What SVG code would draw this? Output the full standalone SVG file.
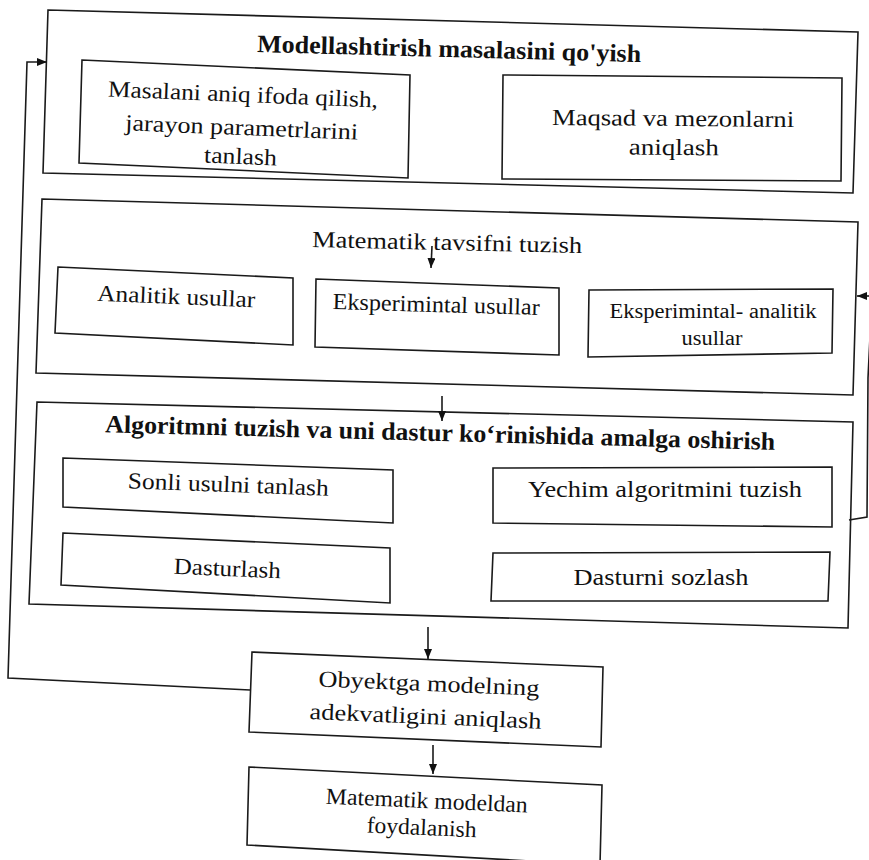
<svg xmlns="http://www.w3.org/2000/svg" width="869" height="860" viewBox="0 0 869 860">
<style>
.box{fill:none;stroke:#1a1a1a;stroke-width:1.6;stroke-linejoin:miter}
.t{font-family:"Liberation Serif","Times New Roman",serif;font-size:23px;fill:#111;text-anchor:middle}
.tb{font-family:"Liberation Serif","Times New Roman",serif;font-size:25px;font-weight:bold;fill:#111;text-anchor:middle}
.ts{font-family:"Liberation Serif","Times New Roman",serif;font-size:20px;fill:#111;text-anchor:middle}
.c{fill:none;stroke:#1a1a1a;stroke-width:1.6}
</style>
<defs>
<marker id="ah" viewBox="0 0 10 8" refX="10" refY="4" markerWidth="10" markerHeight="8" markerUnits="userSpaceOnUse" orient="auto">
<path d="M0,0 L10,4 L0,8 Z" fill="#111"/>
</marker>
</defs>
<rect width="869" height="860" fill="#fff"/>

<g id="stage1">
<polygon class="box" points="48,10 858,32 853,193 43,173"/>
<text class="tb" x="449" y="57" textLength="384" lengthAdjust="spacingAndGlyphs" transform="rotate(1.5 449 57)">Modellashtirish masalasini qo'yish</text>
</g>
<g id="masalani">
<polygon class="box" points="82,60 410,75 408,178 79,163"/>
<g transform="rotate(2.3 242 120)">
<text class="t" x="242" y="102" textLength="270" lengthAdjust="spacingAndGlyphs">Masalani aniq ifoda qilish,</text>
<text class="t" x="242" y="135" textLength="233" lengthAdjust="spacingAndGlyphs">jarayon parametrlarini</text>
<text class="t" x="242" y="164" textLength="73" lengthAdjust="spacingAndGlyphs">tanlash</text>
</g>
</g>
<g id="maqsad">
<polygon class="box" points="503,75 842,78 841,181 502,179"/>
<g transform="rotate(0.5 673 130)">
<text class="t" x="673" y="126" textLength="242" lengthAdjust="spacingAndGlyphs">Maqsad va mezonlarni</text>
<text class="t" x="674" y="155" textLength="90" lengthAdjust="spacingAndGlyphs">aniqlash</text>
</g>
</g>

<g id="stage2">
<polygon class="box" points="42,199 858,222 853,395 36,373"/>
<text class="t" x="447" y="250" textLength="270" lengthAdjust="spacingAndGlyphs" transform="rotate(1.3 447 250)">Matematik tavsifni tuzish</text>
</g>
<g id="analitik">
<polygon class="box" points="58,267 293,278 293,345 55,333"/>
<text class="t" x="176" y="304" textLength="158" lengthAdjust="spacingAndGlyphs" transform="rotate(2.4 176 304)">Analitik usullar</text>
</g>
<g id="eksperimintal">
<polygon class="box" points="316,279 559,288 559,355 315,347"/>
<text class="t" x="436" y="312" textLength="207" lengthAdjust="spacingAndGlyphs" transform="rotate(1.6 436 312)">Eksperimintal usullar</text>
</g>
<g id="eksp-analitik">
<polygon class="box" points="589,290 833,289 832,353 588,357"/>
<text class="ts" x="713" y="318" textLength="207" lengthAdjust="spacingAndGlyphs">Eksperimintal- analitik</text>
<text class="ts" x="712" y="345" textLength="61" lengthAdjust="spacingAndGlyphs">usullar</text>
</g>

<g id="stage3">
<polygon class="box" points="37,402 853,422 848,628 29,604"/>
<text class="tb" x="440" y="441" textLength="670" lengthAdjust="spacingAndGlyphs" transform="rotate(1.5 440 441)">Algoritmni tuzish va uni dastur ko‘rinishida amalga oshirish</text>
</g>
<g id="sonli">
<polygon class="box" points="63,458 393,470 393,523 63,507"/>
<text class="t" x="228" y="492" textLength="201" lengthAdjust="spacingAndGlyphs" transform="rotate(2.2 228 492)">Sonli usulni tanlash</text>
</g>
<g id="yechim">
<polygon class="box" points="493,468 832,467 832,527 493,523"/>
<text class="t" x="665" y="497" textLength="274" lengthAdjust="spacingAndGlyphs">Yechim algoritmini tuzish</text>
</g>
<g id="dasturlash">
<polygon class="box" points="63,533 390,548 390,603 61,585"/>
<text class="t" x="227" y="576" textLength="107" lengthAdjust="spacingAndGlyphs" transform="rotate(2.5 227 576)">Dasturlash</text>
</g>
<g id="sozlash">
<polygon class="box" points="493,553 830,552 828,601 491,601"/>
<text class="t" x="661" y="585" textLength="175" lengthAdjust="spacingAndGlyphs">Dasturni sozlash</text>
</g>

<g id="adekvatlik">
<polygon class="box" points="252,652 603,667 601,747 249,732"/>
<g transform="rotate(2.4 427 706)">
<text class="t" x="428" y="691" textLength="221" lengthAdjust="spacingAndGlyphs">Obyektga modelning</text>
<text class="t" x="426" y="724" textLength="232" lengthAdjust="spacingAndGlyphs">adekvatligini aniqlash</text>
</g>
</g>
<g id="foydalanish">
<polygon class="box" points="249,767 602,785 600,865 247,845"/>
<g transform="rotate(2.5 424 820)">
<text class="t" x="426" y="808" textLength="202" lengthAdjust="spacingAndGlyphs">Matematik modeldan</text>
<text class="t" x="422" y="835" textLength="110" lengthAdjust="spacingAndGlyphs">foydalanish</text>
</g>
</g>

<g id="connectors">
<path class="c" d="M432,246 L431,268" marker-end="url(#ah)"/>
<path class="c" d="M442,396 L442,421" marker-end="url(#ah)"/>
<path class="c" d="M428,627 L428,659" marker-end="url(#ah)"/>
<path class="c" d="M433,745 L433,774" marker-end="url(#ah)"/>
<path class="c" d="M250,690 L8,678 L27,62 L47,62" marker-end="url(#ah)"/>
<path class="c" d="M849,520 L867,517 L868,378 L872,296"/>
<path class="c" d="M875,296 L857,296" marker-end="url(#ah)"/>
</g>
</svg>
